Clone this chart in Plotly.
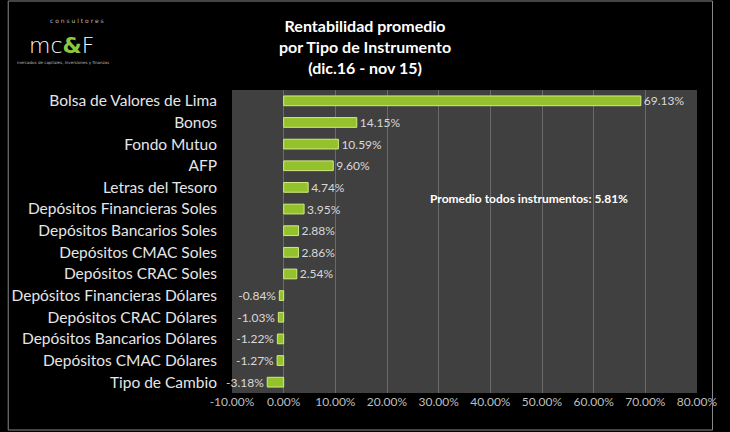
import plotly.graph_objects as go

categorias = ["Bolsa de Valores de Lima", "Bonos", "Fondo Mutuo", "AFP", "Letras del Tesoro",
              "Depósitos Financieras Soles", "Depósitos Bancarios Soles", "Depósitos CMAC Soles",
              "Depósitos CRAC Soles", "Depósitos Financieras Dólares", "Depósitos CRAC Dólares",
              "Depósitos Bancarios Dólares", "Depósitos CMAC Dólares", "Tipo de Cambio"]
rentabilidad = [69.13, 14.15, 10.59, 9.60, 4.74, 3.95, 2.88, 2.86, 2.54,
                -0.84, -1.03, -1.22, -1.27, -3.18]
ticks = [-10, 0, 10, 20, 30, 40, 50, 60, 70, 80]
promedio = 5.81

# plot area in pixels: x 232..712, y 90..393
L, T, W, H = 232, 90, 480, 303


def px(x):
    return (x - L) / W


def py(y):
    return 1 - (y - T) / H


fig = go.Figure()
fig.add_trace(go.Bar(
    y=categorias, x=rentabilidad, orientation="h",
    marker=dict(color="#94c22c", line=dict(color="#d2ea80", width=1)),
    text=["%.2f%%" % v for v in rentabilidad], textposition="outside",
    textfont=dict(family="Lato", size=12, color="#d9d9d9"),
    constraintext="none", cliponaxis=False, width=0.45,
))

fig.update_layout(
    width=730, height=432,
    paper_bgcolor="black", plot_bgcolor="#404040",
    margin=dict(l=L, r=730 - L - W, t=T, b=432 - T - H),
    showlegend=False,
    xaxis=dict(range=[-10, 80], tickvals=ticks, ticktext=["%.2f%%" % t for t in ticks],
               showgrid=True, gridcolor="#6a6a6a", gridwidth=1, zeroline=False,
               tickfont=dict(family="Lato", size=12, color="#bfbfbf"), ticks="",
               showline=False, ticklabeloverflow="allow"),
    yaxis=dict(autorange="reversed", tickfont=dict(family="Lato", size=15.5, color="#e6e6e6"),
               ticks="", showgrid=False, ticklabelstandoff=14),
    font=dict(family="Lato"),
)

# title
fig.add_annotation(text="<b>Rentabilidad promedio<br>por Tipo de Instrumento<br>(dic.16 - nov 15)</b>",
                   x=px(369), y=py(14), xref="paper", yref="paper", showarrow=False,
                   xanchor="center", yanchor="top",
                   font=dict(family="Lato", size=16, color="white"))

fig.add_annotation(text="<b>Promedio todos instrumentos: %.2f%%</b>" % promedio,
                   x=px(539), y=py(189), xref="paper", yref="paper", showarrow=False,
                   xanchor="center", font=dict(family="Lato", size=12, color="white"))

# logo
fig.add_annotation(text="c o n s u l t o r e s", x=px(72), y=py(16),
                   xref="paper", yref="paper", showarrow=False, xanchor="center",
                   font=dict(family="DejaVu Sans", size=6, color="#bbbbbb"), borderpad=0)
fig.add_annotation(text="mc<span style='color:#8dc63f'><b>&amp;</b></span>F",
                   x=px(56), y=py(32),
                   xref="paper", yref="paper", showarrow=False, xanchor="center",
                   font=dict(family="DejaVu Sans", size=22, color="white", weight=200),
                   borderpad=0)
fig.add_annotation(text="mercados de capitales, inversiones y finanzas",
                   x=px(58), y=py(59),
                   xref="paper", yref="paper", showarrow=False, xanchor="center",
                   font=dict(family="DejaVu Sans", size=4, color="#bbbbbb"), borderpad=0)

fig.add_shape(type="rect", xref="paper", yref="paper",
              x0=px(1), x1=px(728), y0=py(430), y1=py(1),
              line=dict(color="#888888", width=1))

fig.write_html("out.html", post_script="document.body.style.margin='0';",
               config={"displayModeBar": False})
